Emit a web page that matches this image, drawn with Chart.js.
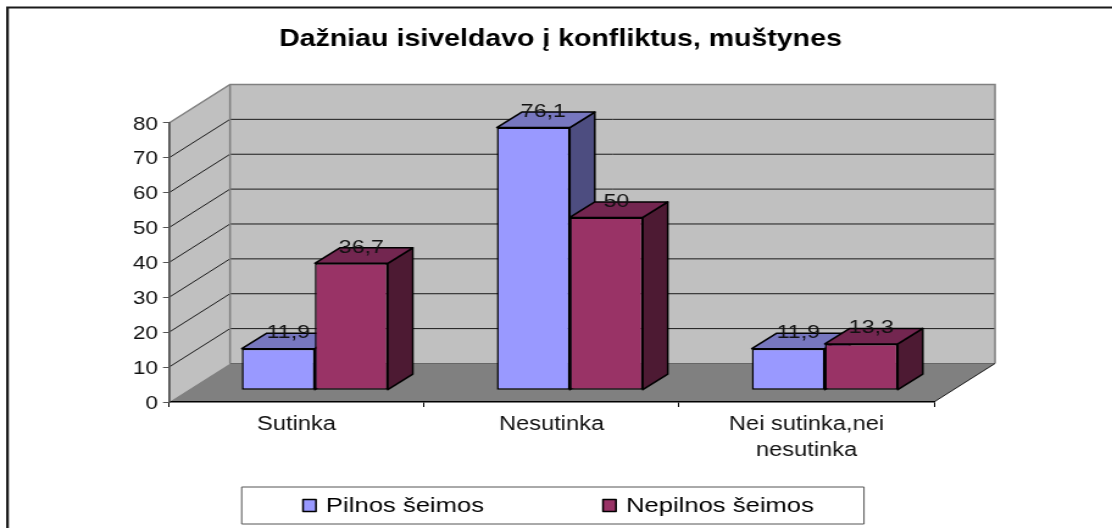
<!DOCTYPE html>
<html>
<head>
<meta charset="utf-8">
<style>
html,body{margin:0;padding:0;background:#fff;overflow:hidden;width:1112px;height:528px}
#wrap{width:912px;height:528px;transform-origin:0 0;transform:scaleX(1.21930)}
canvas{display:block}
</style>
<script src="https://cdn.jsdelivr.net/npm/chart.js@4"></script>
</head>
<body>
<div id="wrap"><canvas id="c" width="912" height="528"></canvas></div>
<script>
const titleText = "Dažniau isiveldavo į konfliktus, muštynes";
const categories = ["Sutinka", "Nesutinka", ["Nei sutinka,nei", "nesutinka"]];
const seriesNames = ["Pilnos šeimos", "Nepilnos šeimos"];
const pilnos = [11.9, 76.1, 11.9];
const nepilnos = [36.7, 50, 13.3];
const yTicksMax = 80;
const yStep = 10;

const S = 1112 / 912;
const px = v => v / S;
const FONT = "'Liberation Sans', Arial, sans-serif";
const wallDX = px(61), wallDY = -38.5;
const barDX = px(18.3), barDY = -12.3;
const depthDX = px(25), depthDY = -15.5;
const faces = [
  {front:"#9999FF", top:"#7777BF", side:"#4D4D80"},
  {front:"#993366", top:"#732650", side:"#4D1A33"}
];

function poly(ctx, pts, fill, stroke, lw){
  ctx.beginPath();
  pts.forEach((p,i)=> i ? ctx.lineTo(p[0],p[1]) : ctx.moveTo(p[0],p[1]));
  ctx.closePath();
  if(fill){ctx.fillStyle=fill;ctx.fill();}
  if(stroke){ctx.strokeStyle=stroke;ctx.lineWidth=lw;ctx.lineJoin="round";ctx.stroke();}
}

const scene3d = {
  id:"scene3d",
  beforeDraw(chart){
    const {ctx, chartArea:a, scales:{y}, width, height} = chart;
    ctx.save();
    ctx.fillStyle="#fff"; ctx.fillRect(0,0,width,height);
    // outer frame
    ctx.strokeStyle="#1a1a1a"; ctx.lineWidth=2.2;
    ctx.beginPath(); ctx.moveTo(px(7.5),height); ctx.lineTo(px(7.5),7.5); ctx.lineTo(width,7.5); ctx.stroke();
    // walls
    const L=a.left,R=a.right,T=a.top,B=a.bottom;
    poly(ctx,[[L,T],[L+wallDX,T+wallDY],[L+wallDX,B+wallDY],[L,B]],"#C0C0C0");
    poly(ctx,[[L+wallDX,T+wallDY],[R+wallDX,T+wallDY],[R+wallDX,B+wallDY],[L+wallDX,B+wallDY]],"#C0C0C0");
    poly(ctx,[[L,B],[R,B],[R+wallDX,B+wallDY],[L+wallDX,B+wallDY]],"#808080");
    // grid lines
    y.ticks.forEach(t=>{
      if(t.value===0||t.value===yTicksMax) return;
      const p=y.getPixelForValue(t.value);
      ctx.strokeStyle="#1a1a1a"; ctx.lineWidth=1;
      ctx.beginPath(); ctx.moveTo(L,p); ctx.lineTo(L+wallDX,p+wallDY); ctx.lineTo(R+wallDX,p+wallDY); ctx.stroke();
    });
    // wall edges
    ctx.strokeStyle="#808080"; ctx.lineWidth=1.5;
    ctx.beginPath();
    ctx.moveTo(L,T); ctx.lineTo(L+wallDX,T+wallDY); ctx.lineTo(R+wallDX,T+wallDY); ctx.lineTo(R+wallDX,B+wallDY);
    ctx.moveTo(L+wallDX,T+wallDY); ctx.lineTo(L+wallDX,B+wallDY);
    ctx.stroke();
    ctx.strokeStyle="#666"; ctx.lineWidth=1.2;
    ctx.beginPath(); ctx.moveTo(L+wallDX,B+wallDY); ctx.lineTo(R+wallDX,B+wallDY); ctx.stroke();
    ctx.strokeStyle="#1a1a1a"; ctx.lineWidth=1;
    ctx.beginPath(); ctx.moveTo(R,B); ctx.lineTo(R+wallDX,B+wallDY); ctx.stroke();
    ctx.restore();
  },
  beforeDatasetsDraw(chart){
    const ctx=chart.ctx;
    ctx.save();
    ctx.translate(barDX,barDY);
    chart.data.datasets.forEach((ds,i)=>{
      chart.getDatasetMeta(i).data.forEach(el=>{
        const hw=el.width/2, l=el.x-hw, r=el.x+hw, t=el.y, b=el.base;
        poly(ctx,[[r,t],[r+depthDX,t+depthDY],[r+depthDX,b+depthDY],[r,b]],faces[i].side,"#000",1.5);
        poly(ctx,[[l,t],[l+depthDX,t+depthDY],[r+depthDX,t+depthDY],[r,t]],faces[i].top,"#000",1.5);
      });
    });
  },
  afterDatasetsDraw(chart){
    const ctx=chart.ctx;
    ctx.restore();
    ctx.save();
    ctx.fillStyle="#111"; ctx.font="19px "+FONT; ctx.textAlign="center"; ctx.textBaseline="alphabetic";
    chart.data.datasets.forEach((ds,i)=>{
      chart.getDatasetMeta(i).data.forEach((el,j)=>{
        ctx.fillText(String(ds.data[j]).replace(".",","), el.x+barDX+px(10), el.y+barDY-10.5);
      });
    });
    // legend
    poly(ctx,[[px(241.7),487],[px(864),487],[px(864),524],[px(241.7),524]],"#fff","#555",1);
    const swatchX=[303,603], textX=[326,626];
    seriesNames.forEach((n,i)=>{
      poly(ctx,[[px(swatchX[i]),499.5],[px(swatchX[i]+13),499.5],[px(swatchX[i]+13),511.5],[px(swatchX[i]),511.5]],faces[i].front,"#000",1.5);
      ctx.fillStyle="#000"; ctx.font="21px "+FONT; ctx.textAlign="left";
      ctx.fillText(n,px(textX[i]),511.5);
    });
    ctx.restore();
  }
};

new Chart(document.getElementById("c"),{
  type:"bar",
  data:{
    labels:categories,
    datasets:[
      {label:seriesNames[0],data:pilnos,yAxisID:"yBar",backgroundColor:faces[0].front,borderColor:"#000",borderWidth:1.5,borderSkipped:false,clip:false},
      {label:seriesNames[1],data:nepilnos,yAxisID:"yBar",backgroundColor:faces[1].front,borderColor:"#000",borderWidth:1.5,borderSkipped:false,clip:false}
    ]
  },
  options:{
    responsive:false,
    animation:false,
    layout:{padding:{left:px(9),right:0,top:0,bottom:0}},
    datasets:{bar:{barPercentage:1,categoryPercentage:0.5725}},
    plugins:{
      legend:{display:false},
      tooltip:{enabled:false},
      title:{display:true,text:titleText,color:"#000",
        font:{family:FONT,size:23.4,weight:"bold",lineHeight:1.2},
        padding:{top:25.5,bottom:69.4}}
    },
    scales:{
      x:{
        grid:{display:true,offset:true,drawOnChartArea:false,drawTicks:true,tickLength:5,tickColor:"#000",tickWidth:1},
        border:{color:"#000",width:1.5},
        ticks:{color:"#111",font:{family:FONT,size:19.4,lineHeight:1.37},padding:4,autoSkip:false,maxRotation:0,minRotation:0},
        afterFit(s){s.height=126;}
      },
      y:{
        min:0,max:yTicksMax,
        grid:{drawOnChartArea:false,drawTicks:true,tickLength:px(6),tickColor:"#555",tickWidth:1},
        border:{color:"#555",width:1.8},
        ticks:{stepSize:yStep,color:"#111",font:{family:FONT,size:18.5},padding:px(5),labelOffset:1.5},
        afterFit(s){s.width=px(160);}
      },
      yBar:{
        position:"right",min:0,max:81,
        grid:{display:false},border:{display:false},ticks:{display:false},
        afterFit(s){s.width=px(1112-934);}
      }
    }
  },
  plugins:[scene3d]
});
</script>
</body>
</html>
